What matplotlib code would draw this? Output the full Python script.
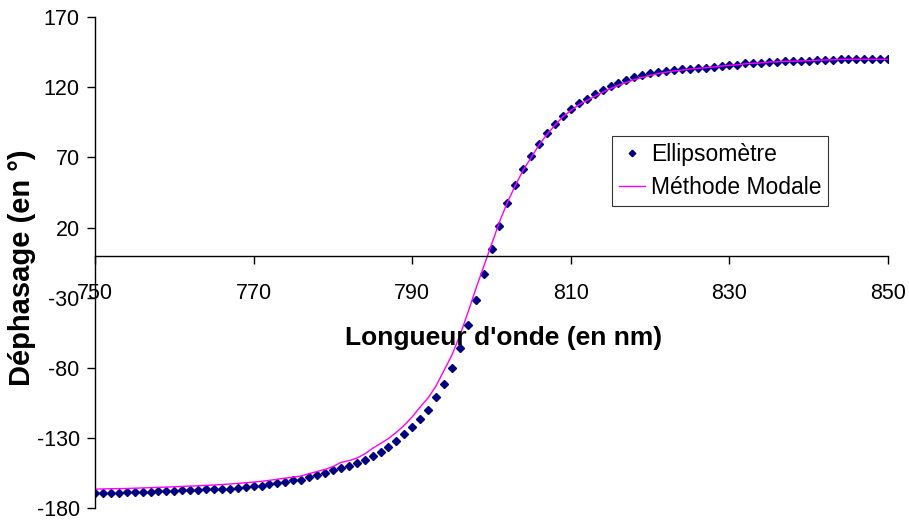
import numpy as np
import matplotlib
matplotlib.use("Agg")
import matplotlib.pyplot as plt
import matplotlib.transforms as mtransforms

plt.rcParams.update({"font.family": ["Liberation Sans", "DejaVu Sans"], "font.size": 15,
                     "axes.unicode_minus": False})

# wavelength grid (nm)
wavelength = np.arange(750, 851, 1)

# measured phase shift, ellipsometer (deg)
ellipso = [
    -169.5, -169.3, -169.2, -169.0, -168.9, -168.7, -168.5, -168.3, -168.1, -167.9,
    -167.7, -167.5, -167.2, -167.0, -166.8, -166.6, -166.5, -166.3, -165.5, -165.0,
    -164.5, -164.0, -163.0, -161.9, -161.4, -160.2, -159.8, -157.9, -156.5, -155.0,
    -153.1, -151.7, -149.8, -148.1, -145.8, -142.9, -139.8, -136.3, -132.0, -127.2,
    -122.0, -116.5, -110.0, -101.0, -91.8, -80.0, -66.0, -49.5, -32.0, -13.4,
    4.4, 21.2, 37.2, 50.0, 61.6, 71.1, 79.7, 87.5, 93.5, 99.4,
    104.4, 108.7, 111.5, 115.3, 118.2, 121.0, 123.2, 125.3, 127.4, 128.9,
    129.9, 131.0, 131.7, 132.2, 132.7, 133.2, 133.6, 133.9, 134.6, 135.3,
    135.8, 135.8, 137.0, 137.2, 137.4, 138.1, 138.3, 138.6, 138.6, 138.8,
    139.0, 139.3, 139.5, 139.5, 140.0, 140.0, 140.0, 140.0, 140.0, 140.0,
    140.0,
]

# modal method simulation (deg)
modal = [
    -166.6, -166.4, -166.3, -166.2, -166.1, -165.9, -165.7, -165.5, -165.3, -165.1,
    -164.9, -164.6, -164.4, -164.2, -163.9, -163.6, -163.3, -162.9, -162.5, -162.0,
    -161.5, -161.0, -160.3, -159.5, -158.7, -158.0, -157.2, -155.5, -154.0, -152.5,
    -150.5, -147.5, -146.3, -144.5, -141.5, -137.5, -134.0, -130.5, -126.0, -121.0,
    -115.0, -108.0, -101.5, -93.0, -82.0, -71.0, -57.0, -41.0, -24.0, -8.0,
    8.0, 24.0, 38.0, 50.0, 61.0, 70.0, 79.0, 86.5, 93.0, 99.0,
    103.5, 107.5, 110.5, 113.5, 116.5, 119.0, 121.5, 123.5, 125.5, 127.0,
    128.5, 129.8, 130.8, 131.6, 132.3, 133.0, 133.5, 133.9, 134.5, 135.2,
    135.7, 136.0, 136.8, 137.1, 137.4, 138.0, 138.2, 138.5, 138.6, 138.8,
    139.0, 139.3, 139.5, 139.6, 139.9, 140.0, 140.0, 140.0, 140.0, 140.0,
    140.0,
]

xticks = [750, 770, 790, 810, 830, 850]
yticks = [-180, -130, -80, -30, 20, 70, 120, 170]

fig = plt.figure(figsize=(9.09, 5.21), dpi=100)
ax = fig.add_axes([0.1045, 0.025, 0.8725, 0.942])

ax.plot(wavelength, ellipso, linestyle="none", marker="D", markersize=4.4,
        color="#000080", label="Ellipsomètre")
ax.plot(wavelength, modal, color="#FF00FF", linewidth=1.0, label="Méthode Modale")

ax.set_xlim(750, 850)
ax.set_ylim(-180, 170)
ax.set_xticks(xticks)
ax.set_yticks(yticks)

# axis crosses at y = 0, as in a spreadsheet chart
ax.spines["top"].set_visible(False)
ax.spines["right"].set_visible(False)
ax.spines["bottom"].set_position(("data", 0))
ax.spines["left"].set_linewidth(1.0)
ax.spines["bottom"].set_linewidth(1.0)
ax.tick_params(axis="x", direction="out", length=6, width=1, pad=14, labelsize=15.5)
ax.tick_params(axis="y", direction="out", length=6, width=1, pad=5, labelsize=15.5)

ax.set_ylabel("Déphasage (en °)", fontsize=21, fontweight="bold")
ax.yaxis.set_label_coords(-0.074, 0.49)
trans = mtransforms.blended_transform_factory(ax.transData, ax.transAxes)
ax.text(801.5, 0.346, "Longueur d'onde (en nm)", transform=trans, ha="center", va="center",
        fontsize=19, fontweight="bold")

leg = ax.legend(loc="upper left", bbox_to_anchor=(0.652, 0.758), borderaxespad=0,
                frameon=True, fancybox=False, edgecolor="black", fontsize=16.5,
                handlelength=1.15, borderpad=0.3, labelspacing=0.45, handletextpad=0.25,
                markerscale=0.75)
leg.get_frame().set_linewidth(0.8)

fig.savefig("out.png", dpi=100)
plt.close(fig)
